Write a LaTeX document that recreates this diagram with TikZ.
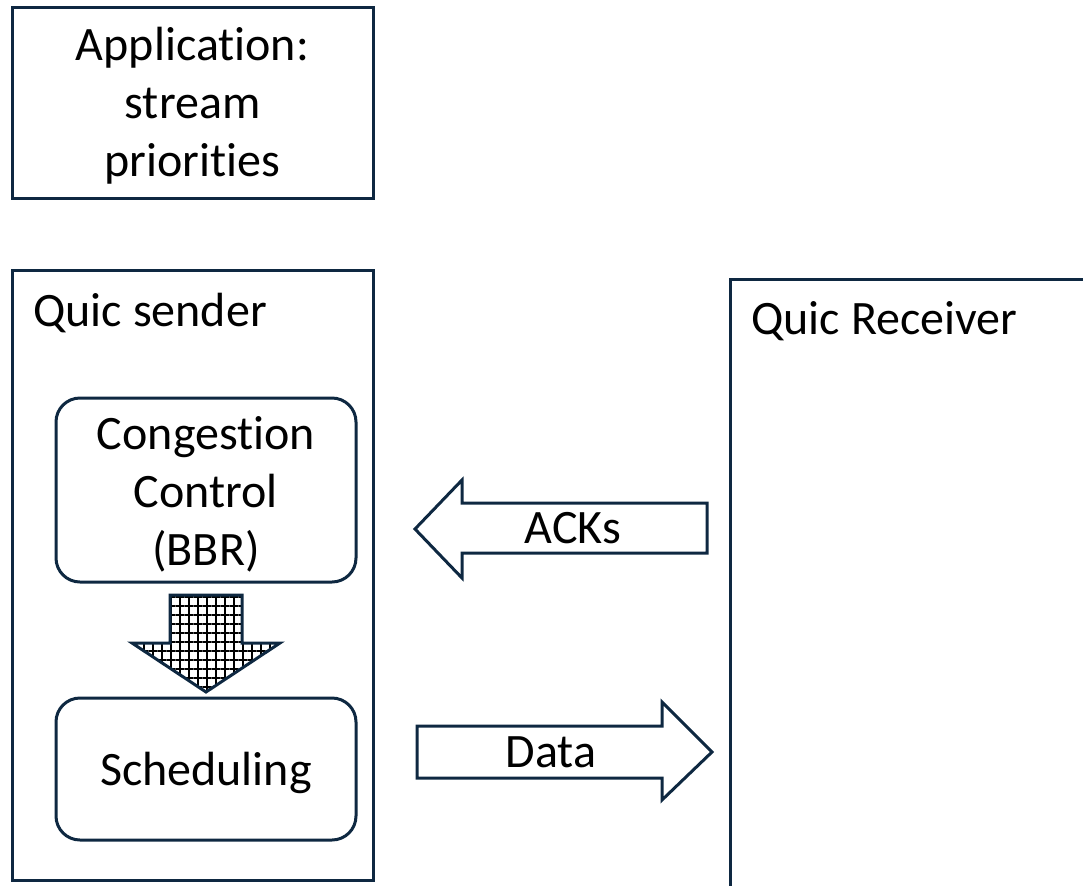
\documentclass[tikz,border=0pt]{standalone}
\usepackage{fontspec}
\setmainfont[Ligatures=NoCommon]{Carlito}
\usetikzlibrary{positioning,patterns.meta}
\definecolor{navy}{HTML}{0E2841}

\begin{document}
\begin{tikzpicture}[x=0.5pt, y=-0.5pt,
    box/.style={rectangle, draw=navy, line width=1.5pt, inner sep=0pt, align=center},
    rbox/.style={box, rounded corners=12pt},
    txt/.style={font=\fontsize{24}{29}\selectfont, inner sep=0pt, align=center},
    fatarrow/.style={draw=navy, line width=1.5pt, line join=miter}
]
    \useasboundingbox (0,0) rectangle (1083,885);
    \clip (0,0) rectangle (1083,885);

    % Application box
    \node[box, minimum width=180.5pt, minimum height=95.5pt] (app) at (192.5,102.5) {};
    \node[txt] (apptext) at ([yshift=-1.5pt]app.center)
        {\fontsize{24}{30}\selectfont Application:\\stream\\priorities};

    % Sender and receiver
    \node[box, minimum width=180.5pt, minimum height=305pt] (sender) at (192.5,575) {};
    \node[box, minimum width=185pt, minimum height=310.5pt] (receiver) at (915,589.5) {};
    \node[txt, anchor=base west] (sendertext) at (33,326) {Quic sender};
    \node[txt, anchor=base west] (receivertext) at (751,334) {Quic Receiver};

    % Sender blocks
    \node[rbox, minimum width=150pt, minimum height=92pt] (cc) at (206,490) {};
    \node[txt] (cctext) at ([yshift=-2pt]cc.center)
        {\fontsize{24}{28.75}\selectfont Congestion\\Control\\(BBR)};
    \node[rbox, minimum width=150pt, minimum height=71pt] (sched) at (206,769) {};
    \node[txt] (schedtext) at ([yshift=-2pt]sched.center) {Scheduling};

    % Hatched arrow
    \draw[fatarrow,
        preaction={pattern={Lines[angle=0, distance=4.5pt, line width=0.8pt]}, pattern color=black},
        preaction={pattern={Lines[angle=90, distance=4.5pt, line width=0.8pt]}, pattern color=black}]
        (170,595) -- (242,595) -- (242,643) -- (280,643) -- (206,692) -- (132,643) -- (170,643) -- cycle;

    % ACKs and Data arrows
    \draw[fatarrow] (415,529) -- (462,480) -- (462,503) -- (707,503) -- (707,553) -- (462,553) -- (462,578) -- cycle;
    \node[txt, anchor=base] (ackstext) at (573,543) {ACKs};

    \draw[fatarrow] (417,726) -- (662,726) -- (662,702) -- (712,752) -- (662,800) -- (662,778) -- (417,778) -- cycle;
    \node[txt, anchor=base] (datatext) at (551,767) {Data};
\end{tikzpicture}
\end{document}
